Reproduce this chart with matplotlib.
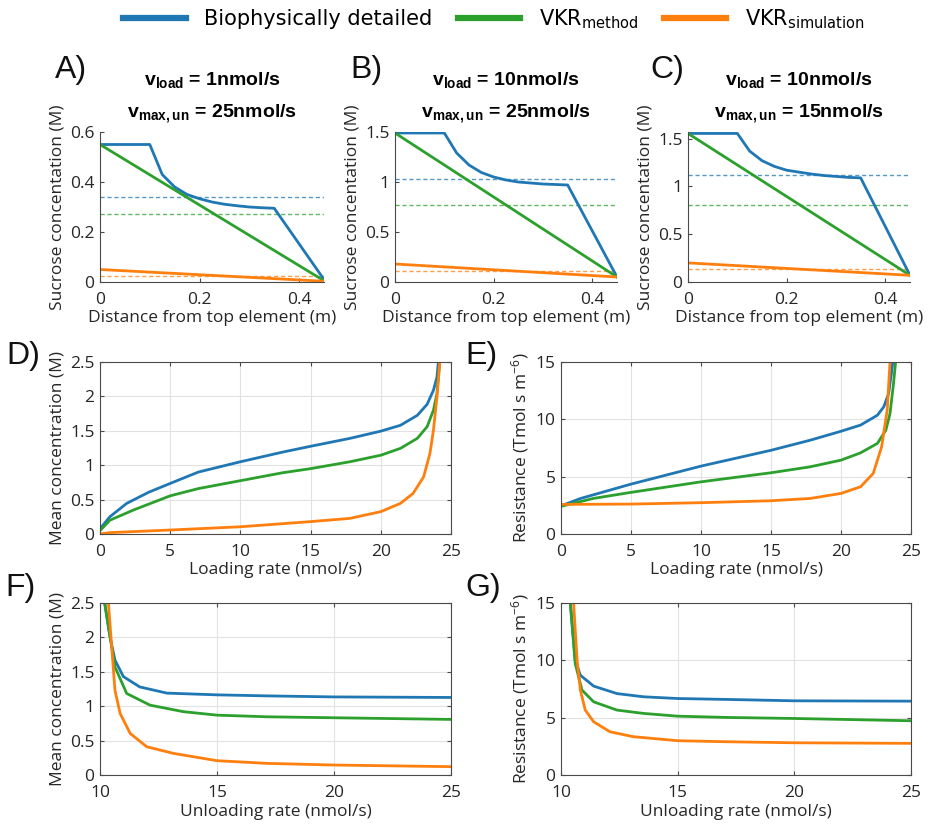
import matplotlib
matplotlib.use("Agg")
import matplotlib.pyplot as plt
from matplotlib.lines import Line2D
from matplotlib.ticker import FuncFormatter

BLUE = "#1f77b4"
GREEN = "#2ca02c"
ORANGE = "#ff7f0e"

# --- concentration profiles along the tube (panels A-C) ---
dist_blue = [0, 0.1, 0.125, 0.15, 0.175, 0.2, 0.225, 0.25, 0.275, 0.3, 0.325, 0.35, 0.45]
dist_ends = [0, 0.45]

prof_blue_a = [0.55, 0.55, 0.43, 0.38, 0.35, 0.333, 0.32, 0.311, 0.305, 0.30, 0.297, 0.295, 0.01]
prof_green_a = [0.55, 0.005]
prof_orange_a = [0.05, 0.003]
mean_a = [0.34, 0.273, 0.025]

prof_blue_b = [1.49, 1.49, 1.29, 1.17, 1.095, 1.05, 1.02, 1.0, 0.99, 0.98, 0.975, 0.97, 0.05]
prof_green_b = [1.49, 0.05]
prof_orange_b = [0.18, 0.05]
mean_b = [1.025, 0.765, 0.11]

prof_blue_c = [1.555, 1.555, 1.37, 1.27, 1.21, 1.17, 1.15, 1.13, 1.115, 1.105, 1.095, 1.09, 0.07]
prof_green_c = [1.555, 0.07]
prof_orange_c = [0.2, 0.07]
mean_c = [1.125, 0.81, 0.14]

# --- mean concentration vs loading rate (D) ---
load_blue_d = [0.1, 0.7, 1.9, 3.5, 5, 7, 10, 13, 15, 17.8, 20, 21.4, 22.6, 23.3, 23.75, 24.0, 24.1]
conc_blue_d = [0.1, 0.25, 0.445, 0.61, 0.735, 0.9, 1.05, 1.19, 1.275, 1.39, 1.495, 1.58, 1.725, 1.885, 2.09, 2.28, 2.5]
load_green_d = [0.1, 0.7, 2.4, 5, 7, 10, 13, 15, 17.8, 20, 21.4, 22.6, 23.3, 23.75, 24.0, 24.1, 24.2]
conc_green_d = [0.07, 0.2, 0.35, 0.555, 0.66, 0.775, 0.89, 0.95, 1.05, 1.145, 1.245, 1.39, 1.56, 1.8, 2.04, 2.28, 2.5]
load_orange_d = [0, 0.7, 5, 10, 15, 17.8, 20, 21.4, 22.3, 23.05, 23.5, 23.75, 24.0, 24.2]
conc_orange_d = [0, 0.02, 0.058, 0.105, 0.18, 0.227, 0.325, 0.445, 0.59, 0.83, 1.17, 1.51, 1.99, 2.5]

# --- resistance vs loading rate (E) ---
load_blue_e = [0.1, 1.4, 5, 10, 15, 17.8, 20, 21.4, 22.6, 23.05, 23.4, 23.6, 23.7]
res_blue_e = [2.5, 3.1, 4.35, 5.92, 7.3, 8.18, 8.96, 9.5, 10.36, 11.08, 12.24, 14.0, 15]
load_green_e = [0.1, 2.3, 5, 10, 15, 17.8, 20, 21.4, 22.6, 23.2, 23.5, 23.75, 23.9]
res_green_e = [2.44, 3.1, 3.63, 4.55, 5.34, 5.86, 6.44, 7.08, 7.9, 9.05, 10.5, 13.1, 15]
load_orange_e = [0, 5, 10, 15, 17.8, 20, 21.4, 22.3, 22.9, 23.3, 23.5]
res_orange_e = [2.58, 2.61, 2.73, 2.9, 3.1, 3.54, 4.12, 5.28, 7.6, 10.8, 15]

# --- mean concentration vs unloading rate (F) ---
unl_blue_f = [10.2, 10.43, 10.64, 11.0, 11.7, 12.86, 15, 17.14, 20, 25]
conc_blue_f = [2.5, 2.0, 1.67, 1.43, 1.28, 1.19, 1.165, 1.15, 1.135, 1.127]
unl_green_f = [10.2, 10.64, 11.14, 12.14, 13.57, 15, 17.14, 20, 25]
conc_green_f = [2.5, 1.57, 1.185, 1.015, 0.92, 0.87, 0.846, 0.832, 0.808]
unl_orange_f = [10.36, 10.5, 10.64, 10.86, 11.29, 12, 13.14, 15, 17.14, 20, 25]
conc_orange_f = [2.5, 1.86, 1.23, 0.895, 0.604, 0.41, 0.314, 0.208, 0.169, 0.145, 0.121]

# --- resistance vs unloading rate (G) ---
unl_blue_g = [10.4, 10.61, 10.83, 11.4, 12.4, 13.54, 15, 17.1, 20, 25]
res_blue_g = [15, 10.0, 8.7, 7.75, 7.1, 6.82, 6.67, 6.59, 6.47, 6.44]
unl_green_g = [10.4, 10.61, 10.9, 11.4, 12.4, 13.54, 15, 17.1, 20, 25]
res_green_g = [15, 9.72, 7.4, 6.38, 5.66, 5.37, 5.13, 5.02, 4.93, 4.73]
unl_orange_g = [10.54, 10.69, 10.83, 11.04, 11.4, 12.1, 13.1, 15, 17.1, 20, 25]
res_orange_g = [15, 10.0, 7.4, 5.66, 4.64, 3.77, 3.34, 2.99, 2.9, 2.81, 2.76]

titles = [("1", "25"), ("10", "25"), ("10", "15")]
series_labels = ["Biophysically detailed", r"VKR$_{\mathregular{method}}$", r"VKR$_{\mathregular{simulation}}$"]

plt.rcParams["font.family"] = ["Open Sans", "DejaVu Sans"]
plt.rcParams["mathtext.default"] = "regular"

W, H = 932, 831
FS = 12.5
fig = plt.figure(figsize=(W / 100, H / 100), dpi=100)


def px_box(l, r, t, b):
    return [l / W, 1 - b / H, (r - l) / W, (b - t) / H]


def style(ax, boxed):
    for s in ax.spines.values():
        s.set_color("#4a4a4a")
        s.set_linewidth(0.8)
    ax.tick_params(direction="in", length=3, width=0.8, color="#4a4a4a",
                   labelcolor="#262626", labelsize=FS, pad=4,
                   top=boxed, right=boxed)
    ax.tick_params(axis="x", pad=7)
    ax.xaxis.set_major_formatter(FuncFormatter(lambda v, p: "%g" % v))
    ax.yaxis.set_major_formatter(FuncFormatter(lambda v, p: "%g" % v))
    if boxed:
        ax.grid(True, color="#e2e2e2", lw=0.8)
        ax.set_axisbelow(True)
    else:
        ax.spines["top"].set_visible(False)
        ax.spines["right"].set_visible(False)


lw = 2.0
profiles = [
    (prof_blue_a, prof_green_a, prof_orange_a, mean_a, 0.6, [0, 0.2, 0.4, 0.6], (100, 324)),
    (prof_blue_b, prof_green_b, prof_orange_b, mean_b, 1.5, [0, 0.5, 1, 1.5], (395, 617)),
    (prof_blue_c, prof_green_c, prof_orange_c, mean_c, 1.57, [0, 0.5, 1, 1.5], (688, 910)),
]
for i, (pb, pg, po, means, ytop, yt, (l, r)) in enumerate(profiles):
    ax = fig.add_axes(px_box(l, r, 132, 282))
    for m, c in zip(means, [BLUE, GREEN, ORANGE]):
        ax.axhline(m, color=c, lw=1.0, ls=(0, (3, 2)), alpha=0.75)
    ax.plot(dist_blue, pb, color=BLUE, lw=lw)
    ax.plot(dist_ends, pg, color=GREEN, lw=lw)
    ax.plot(dist_ends, po, color=ORANGE, lw=lw)
    ax.set_xlim(0, 0.45)
    ax.set_ylim(0, ytop)
    ax.set_xticks([0, 0.2, 0.4])
    ax.set_yticks(yt)
    style(ax, False)
    ax.set_xlabel("Distance from top element (m)", fontsize=FS, color="#262626", labelpad=2)
    ax.set_ylabel("Sucrose concentation (M)", fontsize=FS, color="#262626", labelpad=3)
    vl, vm = titles[i]
    tfont = dict(family=["Liberation Sans Narrow", "Liberation Sans"], weight="bold",
                 fontsize=14, ha="center", va="baseline", transform=ax.transAxes)
    ax.text(0.5, 1 + 47 / 150, r"v$_{load}$ = %snmol/s" % vl, **tfont)
    ax.text(0.5, 1 + 14 / 150, r"v$_{max,un}$ = %snmol/s" % vm, **tfont)

curves = [
    ((100, 451, 362, 534), [(load_blue_d, conc_blue_d), (load_green_d, conc_green_d), (load_orange_d, conc_orange_d)],
     (0, 25), (0, 2.5), [0, 5, 10, 15, 20, 25], [0, 0.5, 1, 1.5, 2, 2.5],
     "Loading rate (nmol/s)", "Mean concentration (M)"),
    ((561, 911, 362, 534), [(load_blue_e, res_blue_e), (load_green_e, res_green_e), (load_orange_e, res_orange_e)],
     (0, 25), (0, 15), [0, 5, 10, 15, 20, 25], [0, 5, 10, 15],
     "Loading rate (nmol/s)", r"Resistance (Tmol s m$^{-6}$)"),
    ((100, 451, 603, 775), [(unl_blue_f, conc_blue_f), (unl_green_f, conc_green_f), (unl_orange_f, conc_orange_f)],
     (10, 25), (0, 2.5), [10, 15, 20, 25], [0, 0.5, 1, 1.5, 2, 2.5],
     "Unloading rate (nmol/s)", "Mean concentration (M)"),
    ((561, 911, 603, 775), [(unl_blue_g, res_blue_g), (unl_green_g, res_green_g), (unl_orange_g, res_orange_g)],
     (10, 25), (0, 15), [10, 15, 20, 25], [0, 5, 10, 15],
     "Unloading rate (nmol/s)", r"Resistance (Tmol s m$^{-6}$)"),
]
for (l, r, t, b), data, xl, yl, xt, yt, xlab, ylab in curves:
    ax = fig.add_axes(px_box(l, r, t, b))
    for (x, y), c in zip(data, [BLUE, GREEN, ORANGE]):
        ax.plot(x, y, color=c, lw=lw)
    ax.set_xlim(*xl)
    ax.set_ylim(*yl)
    ax.set_xticks(xt)
    ax.set_yticks(yt)
    style(ax, True)
    ax.set_xlabel(xlab, fontsize=FS, color="#262626", labelpad=2)
    ax.set_ylabel(ylab, fontsize=FS, color="#262626", labelpad=3)

# panel letters
for lab, x, y in [("A)", 55, 70), ("B)", 350, 70), ("C)", 650, 70),
                  ("D)", 6, 356), ("E)", 465, 356), ("F)", 5, 588), ("G)", 465, 588)]:
    fig.text(x / W, 1 - y / H, lab, fontsize=23, family="Liberation Sans",
             ha="left", va="center", color="#111111")

handles = [Line2D([], [], color=c, lw=4.5) for c in [BLUE, GREEN, ORANGE]]
fig.legend(handles, series_labels, loc="center", bbox_to_anchor=(0.53, 1 - 19 / H), ncol=3,
           frameon=False, prop=dict(family="DejaVu Sans", size=15), handlelength=3,
           handletextpad=0.9, columnspacing=1.2)

fig.savefig("out.png", dpi=100, facecolor="white")
